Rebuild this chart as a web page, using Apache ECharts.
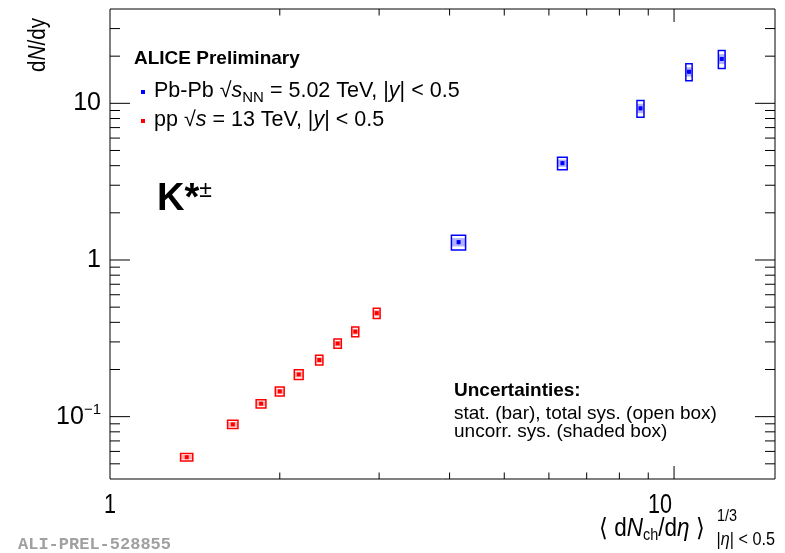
<!DOCTYPE html>
<html><head><meta charset="utf-8">
<script src="https://cdn.jsdelivr.net/npm/echarts@6/dist/echarts.min.js"></script>
<style>html,body{margin:0;padding:0;background:#fff}#c{width:785px;height:553px}</style>
</head><body><div id="c"></div>
<script>
// ---- data ----
const pbX      = [4.15, 6.34, 8.72, 10.63, 12.15];
const pbY      = [1.30, 4.15, 9.29, 15.9, 19.2];
const pbXErr   = [0.120, 0.125, 0.125, 0.137, 0.167];
const pbSysTot = [0.14, 0.38, 1.15, 1.96, 2.50];
const pbSysUnc = [0.08, 0.22, 0.65, 1.10, 1.40];
const pbStat   = [0.04, 0.12, 0.25, 0.40, 0.45];

const ppX      = [1.368, 1.651, 1.853, 2.000, 2.161, 2.350, 2.533, 2.722, 2.971];
const ppY      = [0.0551, 0.0893, 0.121, 0.145, 0.186, 0.230, 0.293, 0.349, 0.458];
const ppXErr   = [0.034, 0.035, 0.037, 0.036, 0.039, 0.035, 0.038, 0.039, 0.041];
const ppSysTot = [0.0030, 0.0054, 0.0073, 0.0096, 0.0132, 0.0163, 0.0199, 0.0248, 0.0348];
const ppSysUnc = [0.0018, 0.0032, 0.0044, 0.0058, 0.0079, 0.0098, 0.0119, 0.0149, 0.0209];
const ppStat   = [0.0008, 0.0010, 0.0012, 0.0014, 0.0017, 0.0020, 0.0025, 0.0030, 0.0040];

const xLabelValues = [1, 10];
const xLabelTexts  = ['1', '10'];
const yLabelValues = [0.1, 1, 10];
const yLabelTexts  = ['{b|10}{s|−1}', '{b|1}', '{b|10}'];

const X_MIN = 1, X_MAX = 15.1, Y_MIN = 0.04, Y_MAX = 40;

// label nudges (style only)
const xLabelDx = [0, -14];

// ---- tick lists (minor ticks 2..9 per decade) ----
const xTicks = [], yTicks = [];
for (let d = -2; d <= 1; d++) for (let k = 1; k <= 9; k++) {
  const v = +(k * Math.pow(10, d)).toPrecision(6);
  if (v > X_MIN * 1.0001 && v < X_MAX * 0.9999) xTicks.push([v, Y_MIN, k === 1 ? 1 : 0]);
  if (v > Y_MIN * 1.0001 && v < Y_MAX * 0.9999) yTicks.push([X_MIN, v, k === 1 ? 1 : 0]);
}

function pointRender(xs, ys, xe, st, su, ss, color, shade) {
  return function (params, api) {
    const i = params.dataIndex;
    const x = xs[i], y = ys[i];
    const p = api.coord([x, y]);
    const b1 = api.coord([x - xe[i], y + st[i]]);
    const b2 = api.coord([x + xe[i], y - st[i]]);
    const u1 = api.coord([x - xe[i], y + su[i]]);
    const u2 = api.coord([x + xe[i], y - su[i]]);
    const s1 = api.coord([x, y + ss[i]]);
    const s2 = api.coord([x, y - ss[i]]);
    return {
      type: 'group', children: [
        { type: 'rect', shape: { x: u1[0], y: u1[1], width: u2[0] - u1[0], height: u2[1] - u1[1] },
          style: { fill: shade, stroke: null } },
        { type: 'rect', shape: { x: b1[0], y: b1[1], width: b2[0] - b1[0], height: b2[1] - b1[1] },
          style: { fill: null, stroke: color, lineWidth: 1.5 } },
        { type: 'line', shape: { x1: s1[0], y1: s1[1], x2: s2[0], y2: s2[1] },
          style: { stroke: color, lineWidth: 1.5 } },
        { type: 'rect', shape: { x: p[0] - 2, y: p[1] - 2, width: 4, height: 4 },
          style: { fill: color } }
      ]
    };
  };
}

const chart = echarts.init(document.getElementById('c'), null, { renderer: 'canvas' });
const option = {
  animation: false,
  backgroundColor: '#fff',
  grid: { left: 110, right: 10, top: 9, bottom: 74, show: true, borderColor: '#000', borderWidth: 1, backgroundColor: 'transparent' },
  xAxis: { type: 'log', logBase: 10, min: X_MIN, max: X_MAX,
    axisLine: { show: false }, axisTick: { show: false }, splitLine: { show: false },
    minorTick: { show: false }, axisLabel: { show: false } },
  yAxis: { type: 'log', logBase: 10, min: Y_MIN, max: Y_MAX,
    axisLine: { show: false }, axisTick: { show: false }, splitLine: { show: false },
    minorTick: { show: false }, axisLabel: { show: false } },
  series: [
    { type: 'custom', name: 'xticks', silent: true, clip: false,
      data: xTicks.concat(xLabelValues.map(v => [v, Y_MIN, 2])),
      renderItem: function (params, api) {
        const v = api.value(0), kind = api.value(2);
        const p = api.coord([v, Y_MIN]), q = api.coord([v, Y_MAX]);
        if (kind === 2) {
          const idx = xLabelValues.indexOf(v);
          return { type: 'text', x: p[0] + xLabelDx[idx], y: p[1] + 27, scaleX: 0.8,
            style: { text: xLabelTexts[idx], font: '27px "Liberation Sans", Arial, sans-serif',
              fill: '#000', align: 'center', verticalAlign: 'middle' } };
        }
        const len = kind ? 13 : 6.5;
        return { type: 'group', children: [
          { type: 'line', shape: { x1: p[0], y1: p[1], x2: p[0], y2: p[1] - len }, style: { stroke: '#000', lineWidth: 1 } },
          { type: 'line', shape: { x1: q[0], y1: q[1], x2: q[0], y2: q[1] + len }, style: { stroke: '#000', lineWidth: 1 } }
        ] };
      } },
    { type: 'custom', name: 'yticks', silent: true, clip: false,
      data: yTicks.concat(yLabelValues.map(v => [X_MIN, v, 2])),
      renderItem: function (params, api) {
        const v = api.value(1), kind = api.value(2);
        const p = api.coord([X_MIN, v]), q = api.coord([X_MAX, v]);
        if (kind === 2) {
          const idx = yLabelValues.indexOf(v);
          return { type: 'text', x: p[0] - 9, y: p[1],
            style: { text: yLabelTexts[idx], align: 'right', verticalAlign: 'middle', fill: '#000',
              rich: { b: { fontSize: 25, fontFamily: 'Liberation Sans', lineHeight: 28, verticalAlign: 'middle' },
                      s: { fontSize: 15, fontFamily: 'Liberation Sans', lineHeight: 15, verticalAlign: 'top' } } } };
        }
        const len = kind ? 20 : 10;
        return { type: 'group', children: [
          { type: 'line', shape: { x1: p[0], y1: p[1], x2: p[0] + len, y2: p[1] }, style: { stroke: '#000', lineWidth: 1 } },
          { type: 'line', shape: { x1: q[0], y1: q[1], x2: q[0] - len, y2: q[1] }, style: { stroke: '#000', lineWidth: 1 } }
        ] };
      } },
    { type: 'custom', name: 'pp', silent: true,
      data: ppX.map((x, i) => [x, ppY[i]]),
      renderItem: pointRender(ppX, ppY, ppXErr, ppSysTot, ppSysUnc, ppStat, '#ff0000', 'rgba(255,0,0,0.3)') },
    { type: 'custom', name: 'PbPb', silent: true,
      data: pbX.map((x, i) => [x, pbY[i]]),
      renderItem: pointRender(pbX, pbY, pbXErr, pbSysTot, pbSysUnc, pbStat, '#0000ff', 'rgba(0,0,255,0.3)') }
  ],
  graphic: [
    { type: 'text', x: 134, y: 59, style: { text: 'ALICE Preliminary', font: 'bold 19px "Liberation Sans", Arial, sans-serif', fill: '#000', verticalAlign: 'middle' } },
    { type: 'rect', shape: { x: 141, y: 90, width: 4, height: 4 }, style: { fill: '#0000ff' } },
    { type: 'text', x: 154, y: 91, style: {
        text: '{n|Pb-Pb }{n|√}{i|s}{sub|NN}{n| = 5.02 TeV, |}{i|y}{n|| < 0.5}', verticalAlign: 'middle', fill: '#000',
        rich: { n: { fontSize: 21.5, fontFamily: 'Liberation Sans', lineHeight: 28 },
                i: { fontSize: 21.5, fontFamily: 'Liberation Sans', fontStyle: 'italic', lineHeight: 28 },
                sub: { fontSize: 15, fontFamily: 'Liberation Sans', lineHeight: 12, verticalAlign: 'bottom' } } } },
    { type: 'rect', shape: { x: 141, y: 119, width: 4, height: 4 }, style: { fill: '#ff0000' } },
    { type: 'text', x: 154, y: 120, style: {
        text: '{n|pp }{n|√}{i|s}{n| = 13 TeV, |}{i|y}{n|| < 0.5}', verticalAlign: 'middle', fill: '#000',
        rich: { n: { fontSize: 21.5, fontFamily: 'Liberation Sans', lineHeight: 28 },
                i: { fontSize: 21.5, fontFamily: 'Liberation Sans', fontStyle: 'italic', lineHeight: 28 } } } },
    { type: 'text', x: 157, y: 200, style: {
        text: '{k|K*}{s|±}', verticalAlign: 'middle', fill: '#000',
        rich: { k: { fontSize: 38, fontWeight: 'bold', fontFamily: 'Liberation Sans', lineHeight: 42 },
                s: { fontSize: 23, fontFamily: 'Liberation Sans', lineHeight: 22, verticalAlign: 'top' } } } },
    { type: 'text', x: 454, y: 391, style: { text: 'Uncertainties:', font: 'bold 19px "Liberation Sans", Arial, sans-serif', fill: '#000', verticalAlign: 'middle' } },
    { type: 'text', x: 454, y: 414, style: { text: 'stat. (bar), total sys. (open box)', font: '19px "Liberation Sans", Arial, sans-serif', fill: '#000', verticalAlign: 'middle' } },
    { type: 'text', x: 454, y: 432, style: { text: 'uncorr. sys. (shaded box)', font: '19px "Liberation Sans", Arial, sans-serif', fill: '#000', verticalAlign: 'middle' } },
    { type: 'text', x: 39, y: 45, rotation: Math.PI / 2, scaleX: 0.9, style: {
        text: '{n|d}{i|N}{n|/dy}', align: 'center', verticalAlign: 'middle', fill: '#000',
        rich: { n: { fontSize: 23, fontFamily: 'Liberation Sans' }, i: { fontSize: 23, fontFamily: 'Liberation Sans', fontStyle: 'italic' } } } },
    { type: 'text', x: 599, y: 529, scaleX: 0.9, style: {
        text: '{n|⟨ d}{i|N}{sub|ch}{n|/d}{i|η}{n| ⟩}', verticalAlign: 'middle', fill: '#000',
        rich: { n: { fontSize: 25, fontFamily: 'Liberation Sans', lineHeight: 30 },
                i: { fontSize: 25, fontFamily: 'Liberation Sans', fontStyle: 'italic', lineHeight: 30 },
                sub: { fontSize: 16, fontFamily: 'Liberation Sans', lineHeight: 12, verticalAlign: 'bottom' } } } },
    { type: 'text', x: 717, y: 516, scaleX: 0.85, style: { text: '1/3', font: '17px "Liberation Sans", Arial, sans-serif', fill: '#000', verticalAlign: 'middle' } },
    { type: 'text', x: 775, y: 540, scaleX: 0.9, style: {
        text: '{n||}{i|η}{n|| < 0.5}', align: 'right', verticalAlign: 'middle', fill: '#000',
        rich: { n: { fontSize: 18, fontFamily: 'Liberation Sans' }, i: { fontSize: 18, fontFamily: 'Liberation Sans', fontStyle: 'italic' } } } },
    { type: 'text', x: 18, y: 545, style: { text: 'ALI-PREL-528855', font: 'bold 17px "Liberation Mono", monospace', fill: '#a0a0a0', verticalAlign: 'middle' } }
  ]
};
chart.setOption(option);
</script></body></html>
